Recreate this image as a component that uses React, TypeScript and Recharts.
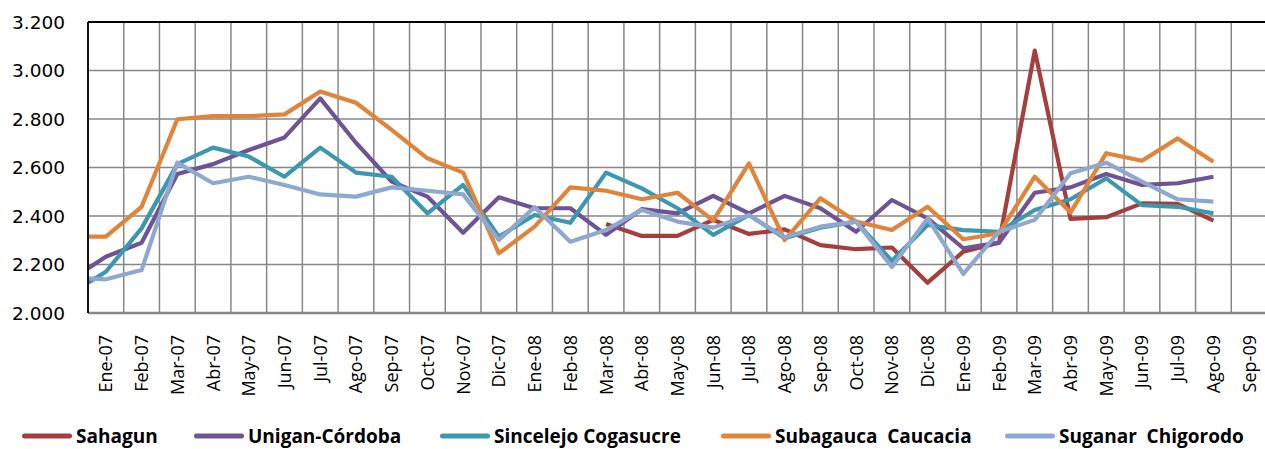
import React from 'react';
import { LineChart, Line, XAxis, YAxis, CartesianGrid, Legend, ReferenceLine } from 'recharts';

// First entry (Dic-06) is the value implied by the segment entering at the left edge of the plot.
const months = [
  'Dic-06',
  'Ene-07', 'Feb-07', 'Mar-07', 'Abr-07', 'May-07', 'Jun-07', 'Jul-07', 'Ago-07', 'Sep-07', 'Oct-07', 'Nov-07', 'Dic-07',
  'Ene-08', 'Feb-08', 'Mar-08', 'Abr-08', 'May-08', 'Jun-08', 'Jul-08', 'Ago-08', 'Sep-08', 'Oct-08', 'Nov-08', 'Dic-08',
  'Ene-09', 'Feb-09', 'Mar-09', 'Abr-09', 'May-09', 'Jun-09', 'Jul-09', 'Ago-09', 'Sep-09',
];

const sahagun: (number | null)[] = [
  null,
  null, null, null, null, null, null, null, null, null, null, null, null,
  null, null, 2367, 2318, 2318, 2384, 2326, 2345, 2280, 2263, 2270, 2125,
  2253, 2290, 3082, 2388, 2395, 2452, 2450, 2381, null,
];
const unigan: (number | null)[] = [
  2136,
  2232, 2290, 2573, 2614, 2672, 2724, 2885, 2702, 2542, 2480, 2331, 2477,
  2432, 2432, 2322, 2428, 2411, 2483, 2411, 2483, 2432, 2335, 2466, 2390,
  2267, 2290, 2496, 2518, 2573, 2528, 2535, 2562, null,
];
const sincelejo: (number | null)[] = [
  2080,
  2170, 2349, 2614, 2682, 2645, 2562, 2682, 2579, 2562, 2411, 2528, 2315,
  2404, 2372, 2579, 2514, 2432, 2322, 2404, 2308, 2352, 2377, 2215, 2363,
  2342, 2335, 2425, 2469, 2555, 2445, 2438, 2411, null,
];
const subagauca: (number | null)[] = [
  2315,
  2315, 2438, 2799, 2812, 2812, 2819, 2913, 2867, 2755, 2638, 2579, 2246,
  2356, 2518, 2504, 2469, 2496, 2381, 2617, 2301, 2473, 2377, 2342, 2438,
  2304, 2329, 2562, 2414, 2659, 2628, 2720, 2624, null,
];
const suganar: (number | null)[] = [
  2147,
  2139, 2177, 2620, 2535, 2562, 2528, 2489, 2480, 2518, 2504, 2489, 2301,
  2436, 2294, 2342, 2425, 2377, 2352, 2404, 2312, 2356, 2377, 2190, 2390,
  2161, 2335, 2384, 2576, 2620, 2542, 2469, 2459, null,
];

const seriesNames = ['Sahagun', 'Unigan-Córdoba', 'Sincelejo Cogasucre', 'Subagauca  Caucacia', 'Suganar  Chigorodo'];
const seriesValues = [sahagun, unigan, sincelejo, subagauca, suganar];
const seriesColors = ['#A53F3D', '#6E5494', '#3C98AF', '#E0843A', '#8FA8D0'];
const legendLeft = [22, 194, 440, 721, 1005];
const yTicks = [2000, 2200, 2400, 2600, 2800, 3000, 3200];

const data = months.map((m, i) => {
  const row: Record<string, number | string | null> = { idx: i - 1, month: m };
  seriesValues.forEach((arr, s) => { row['s' + s] = arr[i]; });
  return row;
});
const tickIdx = months.slice(1).map((_, i) => i);
const boundaries = tickIdx.map((i) => i - 0.5).concat([tickIdx.length - 0.5]);

const fmtY = (v: number) => {
  const th = Math.floor(v / 1000);
  const rest = String(v % 1000).padStart(3, '0');
  return th + '.' + rest;
};

const XTick = (props: any) => {
  const { x, y, payload } = props;
  const label = months[payload.value + 1];
  return (
    <text
      x={x}
      y={y}
      transform={`rotate(-90 ${x} ${y})`}
      textAnchor="end"
      dy="0.36em"
      fontFamily="'Open Sans', sans-serif"
      fontSize={18}
      fill="#000"
    >
      {label}
    </text>
  );
};

const LegendContent = () => (
  <div style={{ position: 'relative', height: 30, width: 1265 }}>
    {seriesNames.map((n, i) => (
      <div
        key={n}
        style={{ position: 'absolute', left: legendLeft[i], top: 5, height: 24, display: 'flex', alignItems: 'center' }}
      >
        <svg width={50} height={8} style={{ display: 'block' }}>
          <line x1={2.5} y1={4} x2={47.5} y2={4} stroke={seriesColors[i]} strokeWidth={5} strokeLinecap="round" />
        </svg>
        <span
          style={{
            marginLeft: 4,
            fontFamily: "'Open Sans', sans-serif",
            fontWeight: 700,
            fontSize: 19,
            whiteSpace: 'pre',
            color: '#000',
            lineHeight: '24px',
          }}
        >
          {n}
        </span>
      </div>
    ))}
  </div>
);

export default function App() {
  return (
    <div style={{ position: 'absolute', left: 0, top: 0, width: 1265, height: 449, overflow: 'hidden', background: '#fff' }}>
      <LineChart width={1280} height={449} data={data} margin={{ top: 22, right: 13, left: 8, bottom: 0 }}>
        <CartesianGrid stroke="#878787" strokeWidth={1.5} verticalValues={boundaries} />
        <ReferenceLine y={3200} stroke="#000" strokeWidth={1.8} />
        <XAxis
          dataKey="idx"
          type="number"
          domain={[-0.5, tickIdx.length - 0.5]}
          allowDataOverflow
          ticks={tickIdx}
          interval={0}
          tick={<XTick />}
          tickLine={false}
          tickSize={0}
          tickMargin={22}
          axisLine={{ stroke: '#868686', strokeWidth: 2.5 }}
          height={106}
        />
        <YAxis
          domain={[2000, 3200]}
          ticks={yTicks}
          interval={0}
          allowDataOverflow
          tickFormatter={fmtY}
          tickLine={false}
          tickSize={0}
          tickMargin={23}
          width={80}
          axisLine={{ stroke: '#000', strokeWidth: 1.8 }}
          tick={{ fontFamily: "'DejaVu Sans', sans-serif", fontSize: 18.5, fill: '#000' }}
        />
        <Legend content={<LegendContent />} wrapperStyle={{ left: 0, bottom: 0, width: 1265, height: 30 }} />
        {seriesNames.map((n, i) => (
          <Line
            key={n}
            name={n}
            dataKey={'s' + i}
            type="linear"
            stroke={seriesColors[i]}
            strokeWidth={4.2}
            strokeLinejoin="round"
            dot={false}
            activeDot={false}
            isAnimationActive={false}
            connectNulls={false}
          />
        ))}
      </LineChart>
    </div>
  );
}
